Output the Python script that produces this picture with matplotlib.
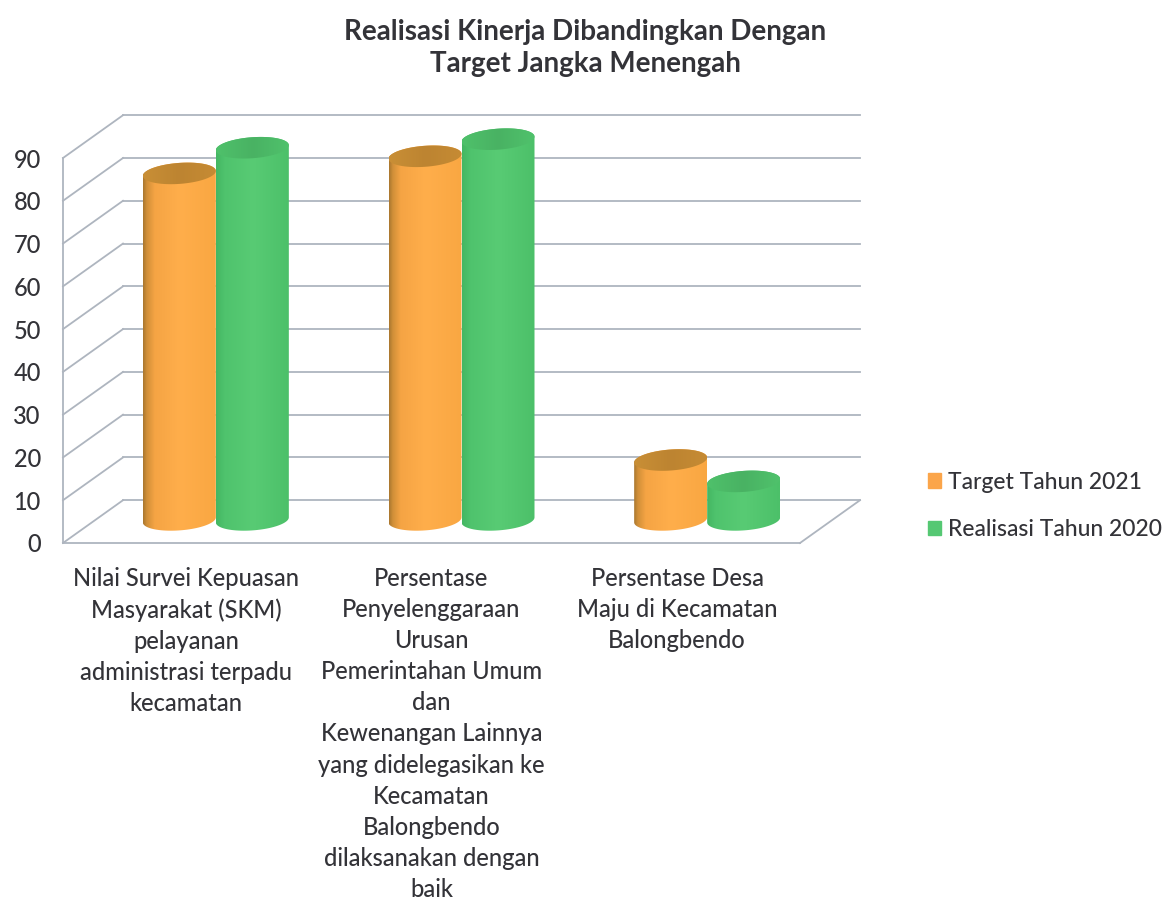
#!/usr/bin/env python3
# 3D-look cylinder chart, drawn with gradient images clipped to cylinder outlines

import numpy as np
import matplotlib
matplotlib.use("Agg")
import matplotlib.pyplot as plt
from matplotlib.patches import PathPatch, Patch
from matplotlib.path import Path

plt.rcParams["font.family"] = ["Lato", "DejaVu Sans"]

# -----------------------------
# Data
# -----------------------------
categories = [
    "Nilai Survei Kepuasan\nMasyarakat (SKM)\npelayanan\nadministrasi terpadu\nkecamatan",
    "Persentase\nPenyelenggaraan\nUrusan\nPemerintahan Umum\ndan\nKewenangan Lainnya\nyang didelegasikan ke\nKecamatan\nBalongbendo\ndilaksanakan dengan\nbaik",
    "Persentase Desa\nMaju di Kecamatan\nBalongbendo",
]
target_2021 = [81, 85, 14]
realisasi_2020 = [87, 89, 9]
y_ticks = [0, 10, 20, 30, 40, 50, 60, 70, 80, 90]

TEXT = "#333338"
GRID = "#aeb5bf"

# -----------------------------
# Layout (pixels of the 1176x900 figure)
# -----------------------------
W, H = 1176, 900
LEFT, RIGHT, BOTTOM, TOP = 63, 800, 543, 158
UX = (RIGHT - LEFT) / 3    # pixels per category
UY = (BOTTOM - TOP) / 90   # pixels per value unit
DEPTH_X = 60 / UX
DEPTH_Y = 10.0
MID_X = DEPTH_X / 2
BASE = 5.4                 # cylinder base above the floor front edge
CYL_W = 73 / UX
SEMI_Y = 10.5 / UY
SHEAR = (5 / 73) * UX / UY


def ellipse_xy(xc, yc, t):
    x = xc + CYL_W / 2 * np.cos(t)
    y = yc + SEMI_Y * np.sin(t) + SHEAR * (x - xc)
    return x, y


def gradient_image(ax, stops, x0, x1, y0, y1, clip, zorder):
    pos = np.linspace(0, 1, 200)
    rgb = np.zeros((1, 200, 3))
    xs, cols = zip(*stops)
    cols = np.array([matplotlib.colors.to_rgb(c) for c in cols])
    for i in range(3):
        rgb[0, :, i] = np.interp(pos, xs, cols[:, i])
    im = ax.imshow(rgb, extent=(x0, x1, y0, y1), aspect="auto", zorder=zorder,
                   interpolation="bilinear")
    clip.set_transform(ax.transData)
    im.set_clip_path(clip)
    # the tallest cylinders rise above the front plane, so only the figure limits them
    im.set_clip_box(ax.figure.bbox)


def draw_cylinder(ax, xc, value, body, top, zorder):
    y_top = BASE + value
    x0, x1 = xc - CYL_W / 2, xc + CYL_W / 2
    t = np.linspace(0, 2 * np.pi, 120)

    # body: upper ellipse edge, then around the lower ellipse edge
    t_up = np.linspace(np.pi, 0, 60)
    t_low = np.linspace(0, -np.pi, 60)
    ux, uy = ellipse_xy(xc, y_top, t_up)
    lx, ly = ellipse_xy(xc, BASE, t_low)
    verts = np.vstack([np.column_stack([ux, uy]), np.column_stack([lx, ly]), [[ux[0], uy[0]]]])
    codes = [Path.MOVETO] + [Path.LINETO] * (len(verts) - 2) + [Path.CLOSEPOLY]
    clip = PathPatch(Path(verts, codes))
    gradient_image(ax, body, x0, x1, BASE - 2 * SEMI_Y - 2, y_top + 2 * SEMI_Y + 2, clip, zorder)

    ex, ey = ellipse_xy(xc, y_top, t)
    verts = np.column_stack([ex, ey])
    codes = [Path.MOVETO] + [Path.LINETO] * (len(verts) - 2) + [Path.CLOSEPOLY]
    clip = PathPatch(Path(verts, codes))
    gradient_image(ax, top, x0, x1, y_top - 2 * SEMI_Y - 2, y_top + 2 * SEMI_Y + 2, clip, zorder + 0.1)


ORANGE_BODY = [(0, "#a9772f"), (0.05, "#d08f38"), (0.16, "#f5a444"), (0.5, "#ffae4b"), (1, "#f9a742")]
ORANGE_TOP = [(0, "#c98f36"), (0.5, "#bd8431"), (1, "#c68b34")]
GREEN_BODY = [(0, "#44b763"), (0.12, "#4fc36d"), (0.5, "#58cb74"), (1, "#4cc069")]
GREEN_TOP = [(0, "#4fc16b"), (0.5, "#49b263"), (1, "#50c26c")]

# -----------------------------
# Figure
# -----------------------------
fig = plt.figure(figsize=(W / 100, H / 100), dpi=100)
ax = fig.add_axes([LEFT / W, 1 - BOTTOM / H, (RIGHT - LEFT) / W, (BOTTOM - TOP) / H])

# walls and floor
for v in y_ticks:
    ax.plot([0, DEPTH_X], [v, v + DEPTH_Y], color=GRID, lw=1.3, clip_on=False, zorder=1)
    ax.plot([DEPTH_X, 3 + DEPTH_X], [v + DEPTH_Y, v + DEPTH_Y], color=GRID, lw=1.3, clip_on=False, zorder=1)
ax.plot([3, 3 + DEPTH_X], [0, DEPTH_Y], color=GRID, lw=1.3, clip_on=False, zorder=1)

# cylinders
for i, (a, b) in enumerate(zip(target_2021, realisasi_2020)):
    centre = i + 0.5 + MID_X
    draw_cylinder(ax, centre - CYL_W / 2, a, ORANGE_BODY, ORANGE_TOP, 3)
    draw_cylinder(ax, centre + CYL_W / 2, b, GREEN_BODY, GREEN_TOP, 4)

ax.set_xlim(0, 3)
ax.set_ylim(0, 90)
ax.patch.set_alpha(0)

for side in ("top", "right"):
    ax.spines[side].set_visible(False)
for side in ("left", "bottom"):
    ax.spines[side].set_color(GRID)
    ax.spines[side].set_linewidth(1.3)

ax.set_yticks(y_ticks)
ax.set_yticklabels([str(v) for v in y_ticks], fontsize=17, color=TEXT, fontweight="medium")
ax.set_xticks([0.5, 1.5, 2.5])
ax.set_xticklabels(categories, fontsize=17, color=TEXT, linespacing=1.43, fontweight="medium")
ax.tick_params(axis="both", length=0)
ax.tick_params(axis="y", pad=16)
ax.tick_params(axis="x", pad=17)

fig.text(585 / W, 1 - 48 / H, "Realisasi Kinerja Dibandingkan Dengan\nTarget Jangka Menengah",
         ha="center", va="center", fontsize=20, fontweight="bold", color=TEXT, linespacing=1.27)

handles = [Patch(color="#fba54a", label="Target Tahun 2021"),
           Patch(color="#55c873", label="Realisasi Tahun 2020")]
fig.legend(handles=handles, loc="center left", bbox_to_anchor=(907 / W, 1 - 506 / H),
           frameon=False, prop={"size": 16.5, "weight": "medium"}, labelcolor=TEXT,
           handlelength=0.6, handleheight=0.6, handletextpad=0.28, labelspacing=1.15)

fig.savefig("out.png", dpi=100, facecolor="white")
